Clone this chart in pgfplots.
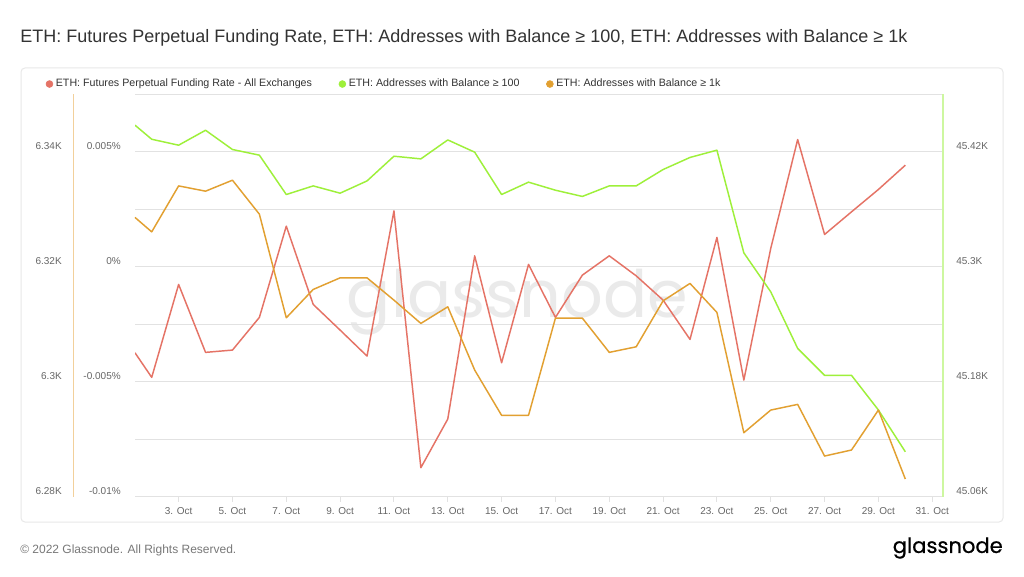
\documentclass[border=0pt]{standalone}
\usepackage{fontspec}
\setmainfont{Liberation Sans}
\newfontfamily\logofont[FakeBold=0.6]{Poppins}
\newfontfamily\waterfont{Poppins}
\usepackage{pgfplots}
\pgfplotsset{compat=1.18}
\definecolor{cRed}{RGB}{229,115,102}
\definecolor{cGreen}{RGB}{158,240,58}
\definecolor{cOrange}{RGB}{226,160,49}
\definecolor{cGreenL}{RGB}{205,247,160}
\definecolor{cOrangeL}{RGB}{242,208,155}
\definecolor{cGrid}{RGB}{226,226,226}
\definecolor{cTick}{RGB}{102,102,102}
\definecolor{cText}{RGB}{51,51,51}
\definecolor{cFrame}{RGB}{232,232,232}
\definecolor{cWater}{RGB}{234,234,234}

\pgfplotstableread{
x y
1.379 -0.003748
2 -0.004817
3 -0.000774
4 -0.003730
5 -0.003630
6 -0.002209
7 0.001761
8 -0.001643
9 -0.002761
10 -0.003891
11 0.002426
12 -0.008748
13 -0.006630
14 0.000470
15 -0.004183
16 0.000096
17 -0.002209
18 -0.000370
19 0.000470
20 -0.000400
21 -0.001457
22 -0.003165
23 0.001270
24 -0.004935
25 0.000791
26 0.005530
27 0.001400
28 0.002383
29 0.003357
30 0.004413
}\funding

\pgfplotstableread{
x y
1.379 45447.7
2 45433.0
3 45426.8
4 45442.4
5 45422.3
6 45416.4
7 45375.3
8 45384.3
9 45376.7
10 45389.5
11 45415.3
12 45412.5
13 45432.3
14 45419.5
15 45375.3
16 45388.2
17 45379.8
18 45373.3
19 45384.3
20 45384.3
21 45401.4
22 45414.0
23 45421.6
24 45314.4
25 45273.7
26 45214.6
27 45186.5
28 45186.5
29 45150.3
30 45106.7
}\hundred

\pgfplotstableread{
x y
1.379 6328.56
2 6326.05
3 6334.05
4 6333.13
5 6335.04
6 6329.13
7 6311.10
8 6316.03
9 6318.05
10 6318.05
11 6314.17
12 6310.12
13 6313.01
14 6302.00
15 6294.12
16 6294.12
17 6311.04
18 6311.04
19 6305.08
20 6306.05
21 6314.05
22 6317.08
23 6312.03
24 6291.10
25 6295.04
26 6296.03
27 6287.04
28 6288.09
29 6295.04
30 6283.04
}\thousand

\pgfplotsset{
  base/.style={
    at={(101.25pt,59.625pt)}, anchor=south west,
    scale only axis, width=606pt, height=301.7pt,
    xmin=1.379, xmax=31.4,
    scaled y ticks=false, scaled x ticks=false,
    ticklabel style={font=\fontsize{7.5}{9}\selectfont, text=cTick},
  },
}

\begin{document}
\begin{tikzpicture}
\path[use as bounding box, fill=white] (0,0) rectangle (768pt,432pt);
\draw[cFrame, line width=0.75pt, rounded corners=3pt] (15.75pt,40.5pt) rectangle (752.25pt,381pt);
\node[anchor=west, inner sep=0pt, font=\fontsize{13.5}{16}\selectfont, text=cText] at (15pt,403.5pt)
  {ETH: Futures Perpetual Funding Rate, ETH: Addresses with Balance ≥ 100, ETH: Addresses with Balance ≥ 1k};
\node[anchor=west, inner sep=0pt, font=\fontsize{9}{11}\selectfont, text={rgb,255:red,120;green,120;blue,120}] at (15pt,19.5pt)
  {© 2022 Glassnode. All Rights Reserved.};
\node[anchor=east, inner sep=0pt, font=\logofont\fontsize{15.8}{18}\selectfont, text=black] at (752.25pt,21pt) {glassnode};
\node[anchor=base, inner sep=0pt, font=\waterfont\fontsize{49}{56}\selectfont, text=cWater] at (388pt,194pt) {glassnode};

% funding rate axis (grid + x axis)
\begin{axis}[base,
  ymin=-0.01, ymax=0.0075,
  axis x line*=bottom, axis y line*=left,
  x axis line style={draw=cGrid, line width=0.8pt, -},
  y axis line style={draw=none, -},
  xtick={3,5,...,31},
  xticklabels={3. Oct,5. Oct,7. Oct,9. Oct,11. Oct,13. Oct,15. Oct,17. Oct,19. Oct,21. Oct,23. Oct,25. Oct,27. Oct,29. Oct,31. Oct},
  x tick style={draw=cGrid, line width=0.8pt},
  y tick style={draw=none},
  tick align=outside, major tick length=4pt,
  ytick={-0.01,-0.005,0,0.005},
  yticklabels={-0.01\%,-0.005\%,0\%,0.005\%},
  minor ytick={-0.0075,-0.0025,0.0025,0.0075},
  ymajorgrids, yminorgrids,
  major grid style={draw=cGrid, line width=0.6pt},
  minor grid style={draw=cGrid, line width=0.6pt},
  yticklabel style={anchor=east, inner sep=0pt, xshift=-6.5pt, yshift=4pt},
  xticklabel style={yshift=-1pt},
]
\addplot[cRed, line width=1.1pt, line join=round] table[x=x,y=y] {\funding};
\end{axis}

% addresses >= 100 (right axis)
\begin{axis}[base,
  ymin=45060, ymax=45480,
  hide x axis, axis y line*=right,
  y axis line style={draw=cGreenL, line width=0.8pt, -},
  y tick style={draw=none}, major tick length=0pt,
  ytick={45060,45180,45300,45420},
  yticklabels={45.06K,45.18K,45.3K,45.42K},
  yticklabel style={anchor=west, inner sep=0pt, xshift=9.75pt, yshift=4pt},
  legend columns=3,
  legend style={at={(-0.1108,1.0254)}, anchor=west, draw=none, fill=none, inner sep=0pt,
    font=\fontsize{8}{9.5}\selectfont, text=cText,
    /tikz/every even column/.append style={column sep=18pt}},
  legend image code/.code={\fill[#1] (2.6pt,0pt) circle (2.6pt);},
]
\addplot[cGreen, line width=1.1pt, line join=round, forget plot] table[x=x,y=y] {\hundred};
\addlegendimage{cRed}
\addlegendentry{ETH: Futures Perpetual Funding Rate - All Exchanges}
\addlegendimage{cGreen}
\addlegendentry{ETH: Addresses with Balance ≥ 100}
\addlegendimage{cOrange}
\addlegendentry{ETH: Addresses with Balance ≥ 1k}
\end{axis}

% addresses >= 1k (outer left axis)
\begin{axis}[base,
  ymin=6280, ymax=6350, clip=false,
  hide x axis, axis y line*=left,
  y axis line style={draw=none, -},
  y tick style={draw=none}, major tick length=0pt,
  ytick={6280,6300,6320,6340},
  yticklabels={6.28K,6.3K,6.32K,6.34K},
  yticklabel style={anchor=east, inner sep=0pt, xshift=-54.75pt, yshift=4pt},
]
\draw[cOrangeL, line width=0.8pt] ([xshift=-46.3pt]rel axis cs:0,0) -- ([xshift=-46.3pt]rel axis cs:0,1);
\addplot[cOrange, line width=1.1pt, line join=round] table[x=x,y=y] {\thousand};
\end{axis}
\end{tikzpicture}
\end{document}
